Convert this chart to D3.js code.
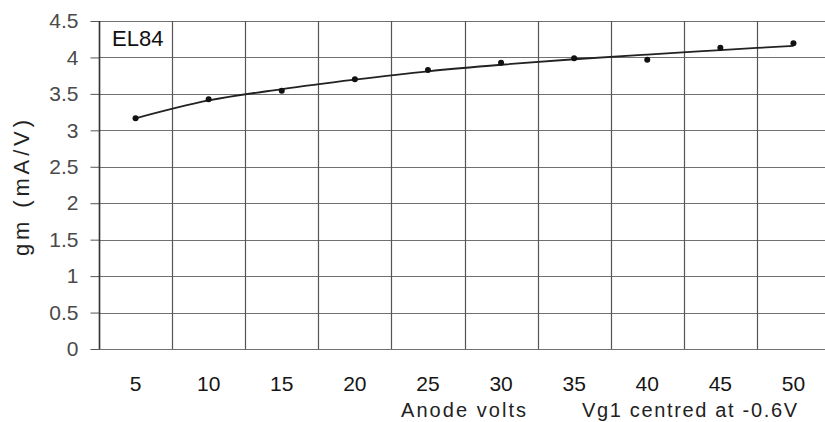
<!DOCTYPE html>
<html><head><meta charset="utf-8">
<script src="https://cdn.jsdelivr.net/npm/d3@7"></script>
<style>html,body{margin:0;padding:0;background:#fff;overflow:hidden}</style>
</head><body>
<svg id="c" width="825" height="422"></svg>
<script>
const categories = ["5","10","15","20","25","30","35","40","45","50"];
const gmValues = [3.165, 3.426, 3.544, 3.70, 3.828, 3.928, 3.99, 3.97, 4.134, 4.194];
// trendline at each category
const trendValues = [3.165, 3.41, 3.565, 3.695, 3.81, 3.90, 3.975, 4.04, 4.10, 4.16];
const yTicks = [0,0.5,1,1.5,2,2.5,3,3.5,4,4.5];
const yTickLabels = ["0","0.5","1","1.5","2","2.5","3","3.5","4","4.5"];
const tubeLabel = "EL84";
const yTitle = "gm (mA/V)";
const xTitle1 = "Anode volts";
const xTitle2 = "Vg1 centred at -0.6V";

(function(){
const svg = d3.select("#c");
const pL = 99, pR = 830, pT = 21, pB = 349;
const x = d3.scaleBand().domain(categories).range([pL, pR]).paddingInner(0).paddingOuter(0);
const y = d3.scaleLinear().domain([0, 4.5]).range([pB, pT]);
const FF = "Liberation Sans, Arial, sans-serif";
const bw = x.bandwidth();

// horizontal gridlines
svg.append("g").selectAll("line").data(yTicks).join("line")
  .attr("x1", pL).attr("x2", pR)
  .attr("y1", d => Math.round(y(d)) + 0.5).attr("y2", d => Math.round(y(d)) + 0.5)
  .attr("stroke", "#707070").attr("stroke-width", 1.2);

// vertical gridlines (band boundaries)
svg.append("g").selectAll("line").data(categories).join("line")
  .attr("x1", d => Math.round(x(d)) + 0.5).attr("x2", d => Math.round(x(d)) + 0.5)
  .attr("y1", pT).attr("y2", pB)
  .attr("stroke", "#555").attr("stroke-width", 1.2);

// y axis
const yAxis = d3.axisLeft(y).tickValues(yTicks).tickFormat((d,i) => yTickLabels[i]).tickSize(9).tickPadding(12);
const ya = svg.append("g").attr("transform", `translate(${pL + 0.5},0)`).call(yAxis);
ya.select(".domain").remove();
ya.selectAll(".tick line").attr("stroke", "#555");
ya.selectAll(".tick text").attr("font-family", FF).attr("font-size", 21).attr("fill", "#4a4a4a");
svg.append("line").attr("x1", pL + 0.5).attr("x2", pL + 0.5).attr("y1", pT).attr("y2", pB)
  .attr("stroke", "#333").attr("stroke-width", 1.5);

// x axis labels
const xAxis = d3.axisBottom(x).tickSize(0).tickPadding(27);
const xa = svg.append("g").attr("transform", `translate(0,${pB})`).call(xAxis);
xa.select(".domain").remove();
xa.selectAll(".tick text").attr("font-family", FF).attr("font-size", 21).attr("fill", "#151515");

// trendline
svg.append("path")
  .attr("d", d3.line().curve(d3.curveMonotoneX)
    .x((d,i) => x(categories[i]) + bw / 2).y(d => y(d))(trendValues))
  .attr("fill", "none").attr("stroke", "#222").attr("stroke-width", 1.8);

// data points
svg.append("g").selectAll("circle").data(gmValues).join("circle")
  .attr("cx", (d,i) => x(categories[i]) + bw / 2).attr("cy", d => y(d)).attr("r", 3)
  .attr("fill", "#111");

// texts
svg.append("text").attr("x", 112).attr("y", 46).text(tubeLabel)
  .attr("font-family", FF).attr("font-size", 22).attr("fill", "#111");
svg.append("text").attr("transform", "translate(29,188) rotate(-90)").attr("text-anchor", "middle")
  .attr("textLength", 136).attr("lengthAdjust", "spacing")
  .text(yTitle).attr("font-family", FF).attr("font-size", 22).attr("fill", "#222");
svg.append("text").attr("x", 401).attr("y", 417).text(xTitle1)
  .attr("textLength", 125).attr("lengthAdjust", "spacing")
  .attr("font-family", FF).attr("font-size", 20).attr("fill", "#222");
svg.append("text").attr("x", 582).attr("y", 417).text(xTitle2)
  .attr("textLength", 215).attr("lengthAdjust", "spacing")
  .attr("font-family", FF).attr("font-size", 20).attr("fill", "#222");
})();
</script>
</body></html>
